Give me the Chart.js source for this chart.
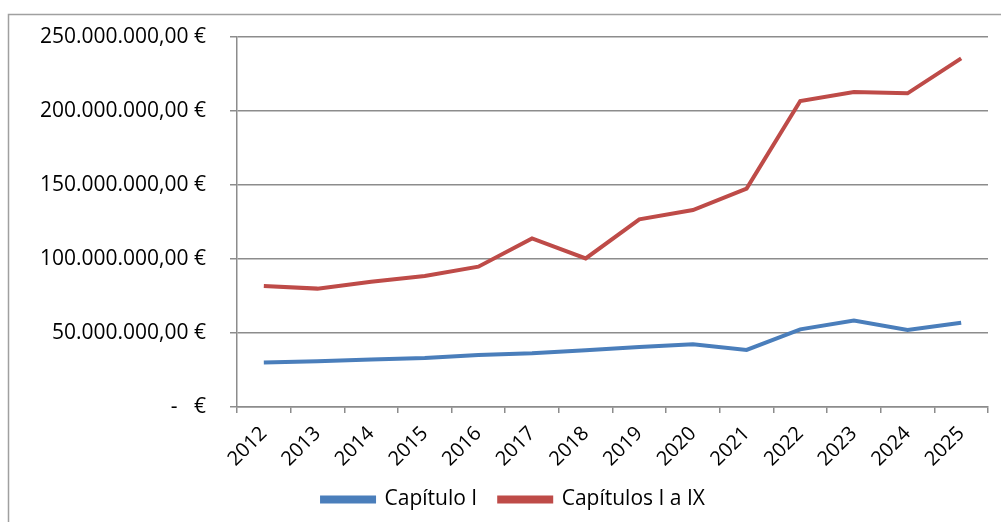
<!DOCTYPE html>
<html>
<head>
<meta charset="utf-8">
<script src="https://cdn.jsdelivr.net/npm/chart.js@4/dist/chart.umd.min.js"></script>
<style>
  html, body { margin: 0; padding: 0; background: #ffffff; }
  #wrap { width: 1001px; height: 522px; position: relative; }
</style>
</head>
<body>
<div id="wrap"><canvas id="budgetChart"></canvas></div>
<script>
// ==========================================
// DATA
// ==========================================

// Years on the category axis
const years = ["2012", "2013", "2014", "2015", "2016", "2017", "2018",
  "2019", "2020", "2021", "2022", "2023", "2024", "2025"];

// Capítulo I (euros)
const capituloI = [30000000, 30800000, 32000000, 33100000, 35100000, 36200000,
  38300000, 40500000, 42300000, 38500000, 52400000, 58300000, 52000000, 56900000];

// Capítulos I a IX (euros)
const capitulosIaIX = [81600000, 79900000, 84600000, 88400000, 94700000, 113800000,
  100300000, 126700000, 132900000, 147400000, 206500000, 212600000, 211700000, 235300000];

// Y axis tick values
const yTicks = [0, 50000000, 100000000, 150000000, 200000000, 250000000];

// ==========================================
// HELPERS
// ==========================================

const FONT = "'Open Sans', 'DejaVu Sans', sans-serif";
const GRID = "#8c8c8c";

/**
 * Spanish accounting style: 250.000.000,00 €  (zero shows as "-   €")
 */
function formatEuro(value) {
  if (value === 0) return "-   €";
  const parts = value.toFixed(2).split(".");
  const intPart = parts[0].replace(/\B(?=(\d{3})+(?!\d))/g, ".");
  return intPart + "," + parts[1] + " €";
}

// Grey frame around the chart, open on the right and bottom like the original
const framePlugin = {
  id: "frame",
  beforeDraw(chart) {
    const ctx = chart.ctx;
    ctx.save();
    ctx.strokeStyle = "#a0a0a0";
    ctx.lineWidth = 1.5;
    ctx.beginPath();
    ctx.moveTo(8.5, 522);
    ctx.lineTo(8.5, 14.5);
    ctx.lineTo(1001, 14.5);
    ctx.stroke();
    ctx.restore();
  },
};

// ==========================================
// CHART
// ==========================================

const ctx = document.getElementById("budgetChart").getContext("2d");

new Chart(ctx, {
  type: "line",
  data: {
    labels: years,
    datasets: [
      {
        label: "Capítulo I",
        data: capituloI,
        borderColor: "#4a7ebb",
        backgroundColor: "#4a7ebb",
        borderWidth: 4,
        pointRadius: 0,
        tension: 0,
      },
      {
        label: "Capítulos I a IX",
        data: capitulosIaIX,
        borderColor: "#be4b48",
        backgroundColor: "#be4b48",
        borderWidth: 4,
        pointRadius: 0,
        tension: 0,
      },
    ],
  },
  options: {
    responsive: true,
    maintainAspectRatio: false,
    animation: false,
    layout: { padding: { left: 39, right: 13, top: 26, bottom: 2 } },
    plugins: {
      tooltip: { enabled: false },
      legend: {
        position: "bottom",
        labels: {
          boxWidth: 52,
          boxHeight: 4,
          padding: 22,
          color: "#000000",
          font: { family: FONT, size: 21 },
        },
      },
    },
    scales: {
      x: {
        offset: true,
        grid: {
          offset: true,
          drawOnChartArea: false,
          drawTicks: true,
          tickLength: 6,
          color: GRID,
          lineWidth: 1.5,
        },
        border: { color: GRID, width: 1.5 },
        ticks: {
          color: "#000000",
          font: { family: FONT, size: 20 },
          minRotation: 45,
          maxRotation: 45,
          padding: 9,
        },
        afterFit(scale) { scale.height = 60; },
      },
      y: {
        min: 0,
        max: 250000000,
        afterBuildTicks(scale) {
          scale.ticks = yTicks.map((v) => ({ value: v }));
        },
        grid: {
          color: GRID,
          lineWidth: 1.5,
          tickLength: 7,
        },
        border: { color: GRID, width: 1.5 },
        ticks: {
          color: "#000000",
          font: { family: FONT, size: 21 },
          padding: 24,
          callback: (v) => formatEuro(v),
        },
        afterFit(scale) { scale.width = 198; },
      },
    },
  },
  plugins: [framePlugin],
});
</script>
</body>
</html>
